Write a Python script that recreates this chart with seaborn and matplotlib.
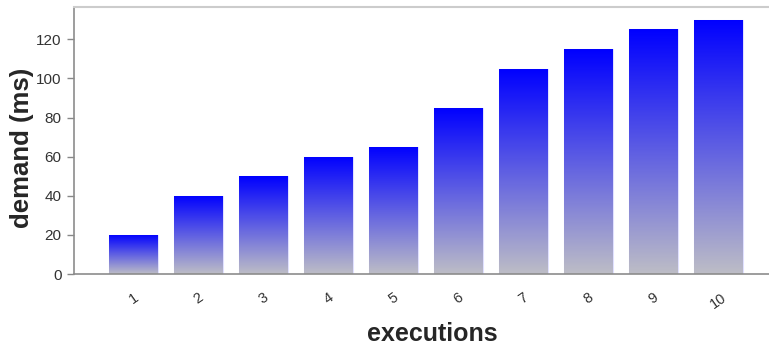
import numpy as np
import pandas as pd
import matplotlib
matplotlib.use("Agg")
import matplotlib.pyplot as plt
import seaborn as sns
from matplotlib.colors import LinearSegmentedColormap

executions = ["1", "2", "3", "4", "5", "6", "7", "8", "9", "10"]
demand_ms = [20, 40, 50, 60, 65, 85, 105, 115, 125, 130]
y_ticks = [0, 20, 40, 60, 80, 100, 120]

df = pd.DataFrame({"executions": executions, "demand": demand_ms})

sns.set_theme(style="white")
plt.rcParams["font.family"] = ["Liberation Sans", "DejaVu Sans"]

fig = plt.figure(figsize=(7.69, 3.51), dpi=100)
ax = fig.add_axes([74 / 769, 1 - 274 / 351, 1 - 74 / 769, (274 - 7) / 351])

sns.barplot(data=df, x="executions", y="demand", order=executions,
            color="#0000ff", width=0.75, ax=ax, edgecolor="none")

# vertical blue-to-grey gradient inside each bar
cmap = LinearSegmentedColormap.from_list("bar_grad", ["#bdbdc6", "#0000ff"])
grad = np.linspace(0, 1, 256).reshape(-1, 1)
for patch in list(ax.patches):
    x0, y0 = patch.get_x(), patch.get_y()
    w, h = patch.get_width(), patch.get_height()
    patch.set_facecolor("none")
    patch.set_edgecolor((0.8, 0.8, 1.0, 0.6))
    patch.set_linewidth(0.8)
    im = ax.imshow(grad, cmap=cmap, aspect="auto", origin="lower",
                   extent=[x0, x0 + w, y0, y0 + h], zorder=2,
                   interpolation="bilinear")
    im.set_clip_path(patch)

ax.set_xlim(-0.915, 9.78)
ax.set_ylim(0, 136.5)
ax.set_yticks(y_ticks)
ax.set_yticklabels([str(v) for v in y_ticks])

ax.set_xlabel("executions", fontsize=18, fontweight="bold")
ax.set_ylabel("demand (ms)", fontsize=18.5, fontweight="bold")
ax.xaxis.set_label_coords(0.516, -0.178)
ax.yaxis.set_label_coords(-0.057, 0.474)

ax.tick_params(axis="y", left=True, length=5, width=1, color="#888888",
               labelsize=11, labelcolor="#333333", pad=4)
ax.tick_params(axis="x", bottom=False, labelsize=10.5, labelcolor="#333333",
               pad=6)
for lbl in ax.get_xticklabels():
    lbl.set_rotation(35)
    lbl.set_ha("center")

for side in ["left", "bottom"]:
    ax.spines[side].set_color("#8c8c8c")
    ax.spines[side].set_linewidth(1.2)
ax.spines["top"].set_color("#cccccc")
ax.spines["top"].set_linewidth(1.5)
ax.spines["right"].set_visible(False)

fig.savefig("out.png", dpi=100)
